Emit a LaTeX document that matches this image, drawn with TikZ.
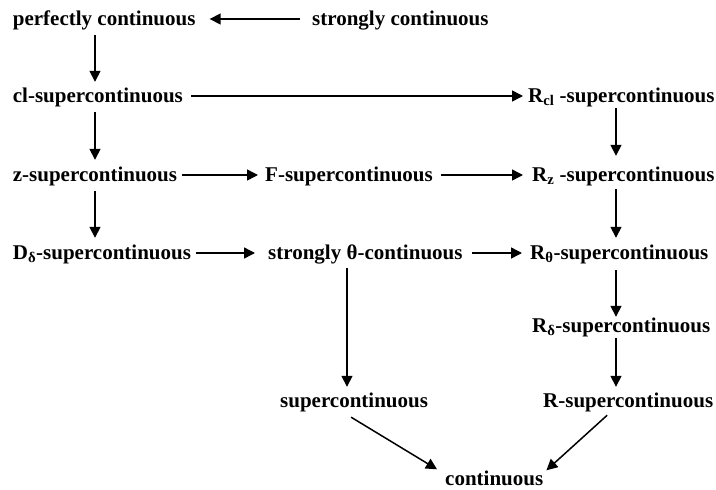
\documentclass[tikz,border=0pt]{standalone}
\usepackage{fontspec}
\setmainfont{Liberation Serif}
\usetikzlibrary{arrows.meta}
\begin{document}
\begin{tikzpicture}[x=1pt,y=-1pt,
  lbl/.style={font=\bfseries\fontsize{21}{24}\selectfont, inner sep=0pt, text height=12pt, text depth=0pt, anchor=base west},
  arr/.style={line width=1.5pt, -{Triangle[length=11pt,width=11pt]}}]
\useasboundingbox (0,0) rectangle (716,490);
\node[lbl] (pc)   at (12.7,25)  {perfectly continuous};
\node[lbl] (sc)   at (312,25)   {strongly continuous};
\node[lbl] (cl)   at (12.7,102) {cl-supercontinuous};
\node[lbl] (Rcl)  at (528,102)  {R\textsubscript{cl} -supercontinuous};
\node[lbl] (z)    at (12.7,181) {z-supercontinuous};
\node[lbl] (F)    at (265,181)  {F-supercontinuous};
\node[lbl] (Rz)   at (532,181)  {R\textsubscript{z} -supercontinuous};
\node[lbl] (D)    at (12.7,259) {D\textsubscript{δ}-supercontinuous};
\node[lbl] (sth)  at (268,259)  {strongly θ-continuous};
\node[lbl] (Rth)  at (530,259)  {R\textsubscript{θ}-supercontinuous};
\node[lbl] (Rd)   at (532,332)  {R\textsubscript{δ}-supercontinuous};
\node[lbl] (R)    at (543,407)  {R-supercontinuous};
\node[lbl] (sup)  at (280,407)  {supercontinuous};
\node[lbl] (cont) at (445,485.5)  {continuous};
\coordinate (xl) at (95,0);
\coordinate (xm) at (347,0);
\coordinate (xr) at (616,0);
% horizontal
\draw[arr, shorten <=12pt, shorten >=14pt] (sc.west) -- (pc.east);
\draw[arr, shorten <=8pt, shorten >=5pt] (cl.east) -- (Rcl.west);
\draw[arr, shorten <=5pt, shorten >=7pt] (z.east) -- (F.west);
\draw[arr, shorten <=8pt, shorten >=9pt] (F.east) -- (Rz.west);
\draw[arr, shorten <=5pt, shorten >=13pt] (D.east) -- (sth.west);
\draw[arr, shorten <=9pt, shorten >=8pt] (sth.east) -- (Rth.west);
% vertical
\draw[arr, shorten <=10pt, shorten >=8pt] (xl |- pc.south) -- (xl |- cl.north);
\draw[arr, shorten <=10pt, shorten >=9pt] (xl |- cl.south) -- (xl |- z.north);
\draw[arr, shorten <=10pt, shorten >=9pt] (xl |- z.south) -- (xl |- D.north);
\draw[arr, shorten <=6pt, shorten >=13pt] (xr |- Rcl.south) -- (xr |- Rz.north);
\draw[arr, shorten <=8pt, shorten >=9pt] (xr |- Rz.south) -- (xr |- Rth.north);
\draw[arr, shorten <=11pt, shorten >=3pt] (xr |- Rth.south) -- (xr |- Rd.north);
\draw[arr, shorten <=6pt, shorten >=8pt] (xr |- Rd.south) -- (xr |- R.north);
\draw[arr, shorten <=9pt, shorten >=8pt] (xm |- sth.south) -- (xm |- sup.north);
% diagonal
\draw[arr] ([xshift=-3pt,yshift=-10pt]sup.south) -- ([xshift=-8pt,yshift=4pt]cont.north west);
\draw[arr] ([xshift=-21pt,yshift=-8pt]R.south) -- ([xshift=3pt,yshift=3pt]cont.north east);
\end{tikzpicture}
\end{document}
